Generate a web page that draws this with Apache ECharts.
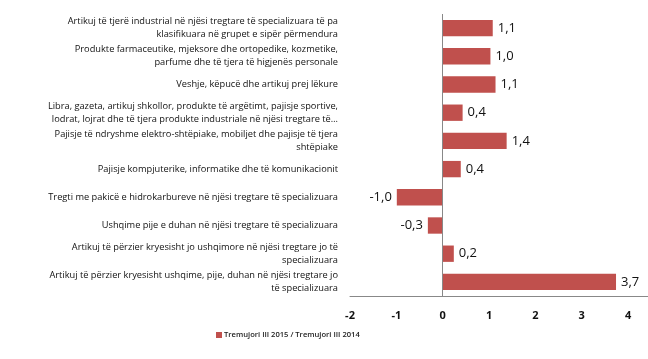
<!DOCTYPE html>
<html><head><meta charset="utf-8">
<script src="https://cdn.jsdelivr.net/npm/echarts@6/dist/echarts.min.js"></script>
<style>html,body{margin:0;padding:0;background:#fff}#c{width:648px;height:359px}</style>
</head><body><div id="c"></div>
<script>
const categories = [
  "Artikuj të tjerë industrial në njësi tregtare të specializuara të pa\nklasifikuara në grupet e sipër përmendura",
  "Produkte farmaceutike, mjeksore dhe ortopedike, kozmetike,\nparfume dhe të tjera të higjenës personale",
  "Veshje, këpucë dhe artikuj prej lëkure",
  "Libra, gazeta, artikuj shkollor, produkte të argëtimt, pajisje sportive,\nlodrat, lojrat dhe të tjera produkte industriale në njësi tregtare të…",
  "Pajisje të ndryshme elektro-shtëpiake, mobiljet dhe pajisje të tjera\nshtëpiake",
  "Pajisje kompjuterike, informatike dhe të komunikacionit",
  "Tregti me pakicë e hidrokarbureve në njësi tregtare të specializuara",
  "Ushqime pije e duhan në njësi tregtare të specializuara",
  "Artikuj të përzier kryesisht jo ushqimore në njësi tregtare jo të\nspecializuara",
  "Artikuj të përzier kryesisht ushqime, pije, duhan në njësi tregtare jo\ntë specializuara"
];
const values = [1.08, 1.03, 1.14, 0.43, 1.38, 0.39, -0.99, -0.32, 0.24, 3.74];
const seriesName = "Tremujori III 2015 / Tremujori III 2014";
const xTicks = [-2, -1, 0, 1, 2, 3, 4];

const FONT = "Open Sans";
const chart = echarts.init(document.getElementById('c'), null, {renderer: 'canvas'});
chart.setOption({
  animation: false,
  textStyle: {fontFamily: FONT},
  grid: {left: 350, right: 0, top: 14, bottom: 63},
  legend: {
    data: [seriesName], left: 211, top: 326, itemWidth: 6, itemHeight: 6, itemGap: 2,
    icon: 'rect',
    textStyle: {fontSize: 7.6, color: '#222', fontFamily: FONT, fontWeight: 600, padding: [0,0,0,-3]}
  },
  xAxis: {
    type: 'value', min: xTicks[0], max: 4.43, interval: 1,
    splitLine: {show: false},
    axisTick: {show: false},
    axisLine: {show: true, onZero: false, lineStyle: {color: '#888', width: 1}},
    axisLabel: {show: true, showMaxLabel: false, margin: 14, color: '#111', fontSize: 11, fontWeight: 'bold', fontFamily: FONT}
  },
  yAxis: {
    type: 'category', data: categories, inverse: true,
    axisLine: {show: false, onZero: false},
    axisTick: {show: false},
    axisLabel: {margin: 12, fontSize: 9.25, color: '#111', lineHeight: 13, align: 'right', fontFamily: FONT}
  },
  series: [{
    name: seriesName, type: 'bar', barCategoryGap: '42%',
    data: values.map(v => v < 0 ? {value: v, label: {position: 'left'}} : v),
    itemStyle: {color: '#C0504D'},
    label: {
      show: true, position: 'right', distance: 5, fontSize: 13, color: '#111', fontFamily: FONT,
      formatter: p => p.value.toFixed(1).replace('.', ',')
    },
    markLine: {
      silent: true, symbol: 'none', label: {show: false},
      lineStyle: {color: '#888', width: 1, type: 'solid'},
      data: [{xAxis: 0}]
    }
  }]
});
</script></body></html>
